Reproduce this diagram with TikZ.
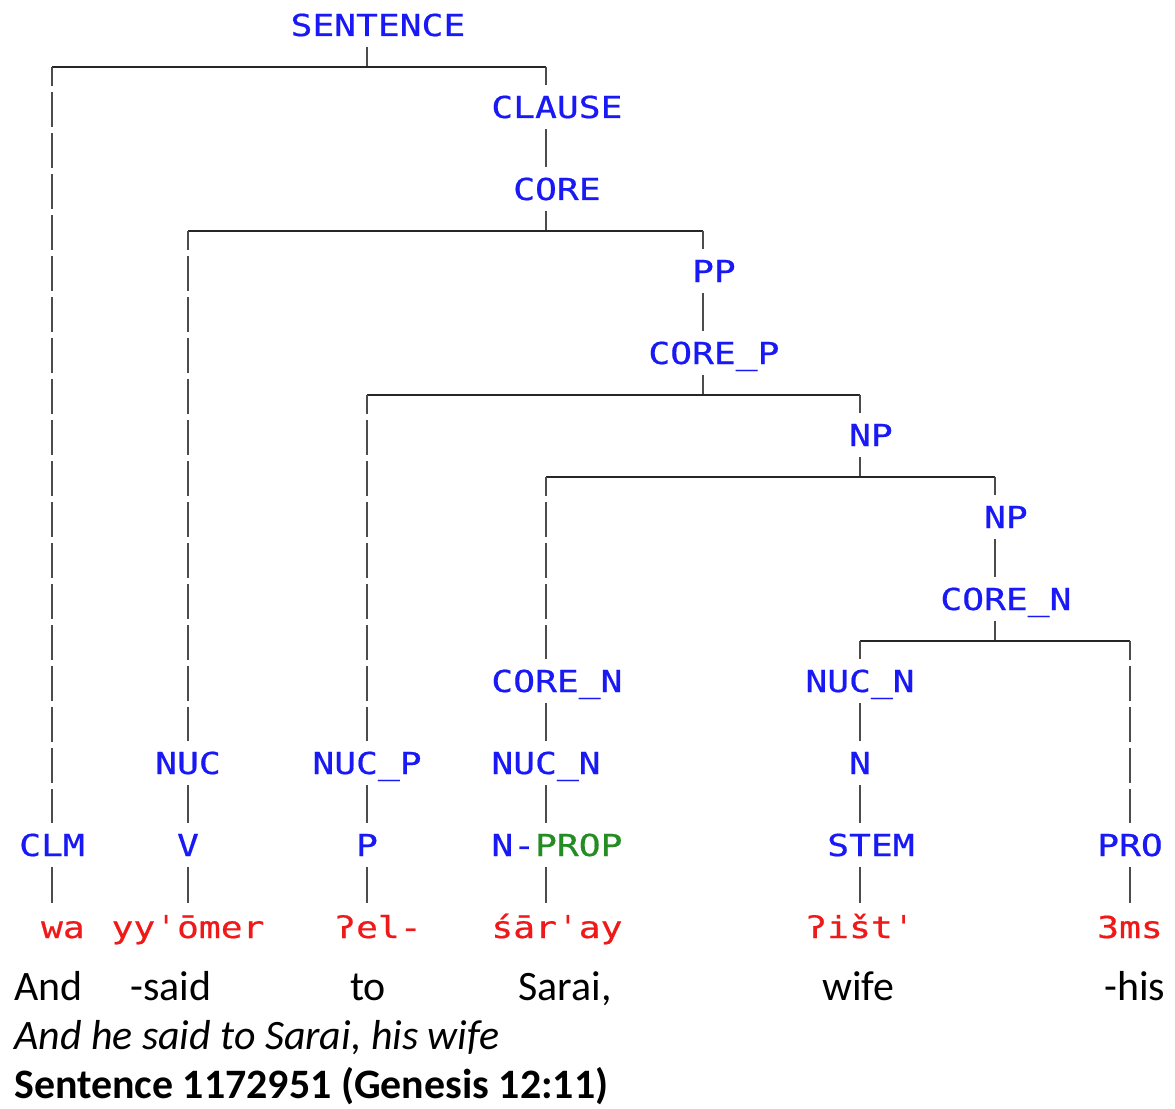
\documentclass[tikz,border=0pt]{standalone}
\usepackage{fontspec}
\setmainfont{Carlito}
\newfontfamily\treefont[FakeStretch=1.2,FakeBold=0.6]{DejaVu Sans Mono}
\definecolor{tagblue}{RGB}{25,25,245}
\definecolor{wordred}{RGB}{240,25,25}
\definecolor{propgreen}{RGB}{35,140,35}
\newcommand{\ev}{\phantom{0}}

\begin{document}
\begin{tikzpicture}[x=0.025cm,y=-0.025cm,tag/.style={font=\treefont\fontsize{21.5}{24}\selectfont,text=tagblue,anchor=base,inner sep=0pt,outer ysep=0.275cm,text height=0.55cm,text depth=0pt},word/.style={tag,text=wordred,text height=0.6cm},gloss/.style={font=\fontsize{29.8}{34}\selectfont,anchor=base west,inner sep=0pt},hbar/.style={draw=black!85,line width=0.06cm},vbar/.style={draw=black!70,line width=0.06cm,dash pattern=on 0.875cm off 0.15cm,dash phase=0.4cm},stem/.style={draw=black!70,line width=0.06cm}]
\def\ya{36};
\def\dy{82};
\def\gap{31};

\useasboundingbox (0,0) rectangle (1175,1109);

\node[tag] (sentence) at (367,\ya) {\ev SENTENCE};
\node[tag] (clause) at (546,\ya+\dy) {\ev CLAUSE};
\node[tag] (core) at (546,\ya+2*\dy) {\ev CORE};
\node[tag] (pp) at (703,\ya+3*\dy) {\ev PP};
\node[tag] (corep) at (703,\ya+4*\dy) {\ev CORE\_P};
\node[tag] (np) at (860,\ya+5*\dy) {\ev NP};
\node[tag] (npb) at (995,\ya+6*\dy) {\ev NP};
\node[tag] (coren) at (995,\ya+7*\dy) {\ev CORE\_N};

\node[tag] (corena) at (546,\ya+8*\dy) {\ev CORE\_N};
\node[tag] (nucnb) at (860,\ya+8*\dy) {NUC\_N};

\node[tag] (nuc) at (188,\ya+9*\dy) {NUC};
\node[tag] (nucp) at (367,\ya+9*\dy) {NUC\_P};
\node[tag] (nucna) at (546,\ya+9*\dy) {NUC\_N};
\node[tag] (n) at (860,\ya+9*\dy) {N};

\node[tag] (clm) at (52,\ya+10*\dy) {CLM};
\node[tag] (v) at (188,\ya+10*\dy) {V};
\node[tag] (p) at (367,\ya+10*\dy) {P};
\node[tag] (nprop) at (546,\ya+10*\dy) {\ev N-{\color{propgreen}PROP}};
\node[tag] (stemn) at (860,\ya+10*\dy) {\ev STEM};
\node[tag] (pro) at (1130,\ya+10*\dy) {PRO};

\node[word] (wa) at (52,\ya+11*\dy) {\ev wa};
\node[word] (yomer) at (188,\ya+11*\dy) {yyˈōmer};
\node[word] (el) at (367,\ya+11*\dy) {\ev ʔel-};
\node[word] (saray) at (546,\ya+11*\dy) {\ev śārˈay};
\node[word] (isht) at (860,\ya+11*\dy) {ʔištˈ};
\node[word] (ms) at (1130,\ya+11*\dy) {3ms};

% sentence
\coordinate (b0) at (367,\ya+\gap);
\draw[stem] (sentence.south) -- (b0);
\draw[hbar] (b0 -| clm) -- (b0 -| clause);
\draw[vbar] (b0 -| clm) -- (clm.north);
\draw[vbar] (b0 -| clause) -- (clause.north);
\draw[stem] (clause.south) -- (core.north);

% core
\coordinate (b2) at (546,\ya+2*\dy+\gap);
\draw[stem] (core.south) -- (b2);
\draw[hbar] (b2 -| nuc) -- (b2 -| pp);
\draw[vbar] (b2 -| nuc) -- (nuc.north);
\draw[vbar] (b2 -| pp) -- (pp.north);
\draw[stem] (pp.south) -- (corep.north);

% core_p
\coordinate (b4) at (703,\ya+4*\dy+\gap);
\draw[stem] (corep.south) -- (b4);
\draw[hbar] (b4 -| nucp) -- (b4 -| np);
\draw[vbar] (b4 -| nucp) -- (nucp.north);
\draw[vbar] (b4 -| np) -- (np.north);

% np
\coordinate (b5) at (860,\ya+5*\dy+\gap);
\draw[stem] (np.south) -- (b5);
\draw[hbar] (b5 -| corena) -- (b5 -| npb);
\draw[vbar] (b5 -| corena) -- (corena.north);
\draw[vbar] (b5 -| npb) -- (npb.north);
\draw[stem] (npb.south) -- (coren.north);

% core_n
\coordinate (b7) at (995,\ya+7*\dy+\gap);
\draw[stem] (coren.south) -- (b7);
\draw[hbar] (b7 -| nucnb) -- (b7 -| pro);
\draw[vbar] (b7 -| nucnb) -- (nucnb.north);
\draw[vbar] (b7 -| pro) -- (pro.north);

\foreach \a/\b in {nuc/v,nucp/p,corena/nucna,nucna/nprop,nucnb/n,n/stemn,clm/wa,v/yomer,p/el,nprop/saray,stemn/isht,pro/ms}
  \draw[stem] (\a.south) -- (\b.north);

\node[gloss] (g1) at (14,1000) {And};
\node[gloss] (g2) at (130,1000) {-said};
\node[gloss] (g3) at (350,1000) {to};
\node[gloss] (g4) at (518,1000) {Sarai,};
\node[gloss] (g5) at (822,1000) {wife};
\node[gloss] (g6) at (1104,1000) {-his};
\node[gloss,font=\fontsize{29.8}{34}\selectfont\itshape] (transl) at (14,1049) {And he said to Sarai, his wife};
\node[gloss,font=\fontsize{29.8}{34}\selectfont\bfseries] (ref) at (14,1098) {Sentence 1172951 (Genesis 12:11)};
\end{tikzpicture}
\end{document}
